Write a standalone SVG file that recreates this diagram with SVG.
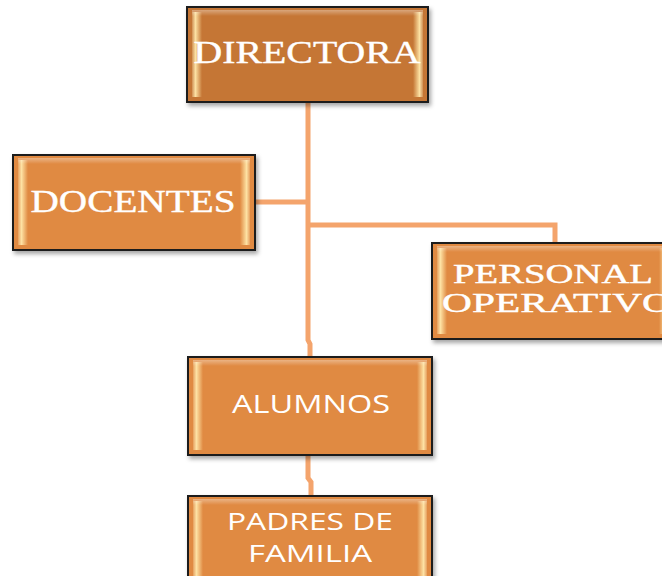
<svg xmlns="http://www.w3.org/2000/svg" width="662" height="576" viewBox="0 0 662 576">
<defs>
<style>
.conn{stroke:#F4A46C;stroke-width:5;fill:none;stroke-linecap:butt}
.frame{stroke:#1c1c1c;stroke-width:2}
.f1{fill:#C57635}
.f2{fill:#E08A42}
.serif{font-family:"Liberation Serif","Times New Roman",serif;fill:#ffffff;text-anchor:middle;stroke:#ffffff;stroke-width:0.4}
.sans{font-family:"Open Sans","Liberation Sans",Arial,sans-serif;fill:#ffffff;text-anchor:middle}
</style>
<filter id="sh" x="-10%" y="-10%" width="125%" height="130%">
<feDropShadow dx="2" dy="3" stdDeviation="2" flood-color="#000" flood-opacity="0.35"/>
</filter>
<linearGradient id="gl" x1="0" y1="0" x2="1" y2="0">
<stop offset="0" stop-color="#FFF0C0" stop-opacity="0.2"/>
<stop offset="0.35" stop-color="#FFE6A8" stop-opacity="0.95"/>
<stop offset="1" stop-color="#FFE6A8" stop-opacity="0"/>
</linearGradient>
<linearGradient id="gr" x1="1" y1="0" x2="0" y2="0">
<stop offset="0" stop-color="#FFF0C0" stop-opacity="0.2"/>
<stop offset="0.35" stop-color="#FFE6A8" stop-opacity="0.95"/>
<stop offset="1" stop-color="#FFE6A8" stop-opacity="0"/>
</linearGradient>
<linearGradient id="gt" x1="0" y1="0" x2="0" y2="1">
<stop offset="0" stop-color="#FFFFFF" stop-opacity="0.35"/>
<stop offset="1" stop-color="#FFFFFF" stop-opacity="0"/>
</linearGradient>
</defs>
<rect width="662" height="576" fill="#ffffff"/>
<g id="connectors">
<path class="conn" d="M308 102 V340 L310 344 V357"/>
<path class="conn" d="M255 202 H308"/>
<path class="conn" d="M308 225 H555 V243"/>
<path class="conn" d="M308 455 V478 L311 482 V496"/>
</g>
<g id="directora">
<rect class="f1 frame" x="187" y="7" width="241" height="95" filter="url(#sh)"/>
<rect x="192" y="12" width="10" height="85" fill="url(#gl)"/>
<rect x="413" y="12" width="10" height="85" fill="url(#gr)"/>
<rect x="192" y="10" width="231" height="6" fill="url(#gt)"/>
<text class="serif" x="307" y="63" font-size="32" textLength="227" lengthAdjust="spacingAndGlyphs">DIRECTORA</text>
</g>
<g id="docentes">
<rect class="f2 frame" x="13" y="155" width="242" height="95" filter="url(#sh)"/>
<rect x="18" y="160" width="10" height="85" fill="url(#gl)"/>
<rect x="240" y="160" width="10" height="85" fill="url(#gr)"/>
<rect x="18" y="158" width="232" height="6" fill="url(#gt)"/>
<text class="serif" x="133" y="212" font-size="32" textLength="205" lengthAdjust="spacingAndGlyphs">DOCENTES</text>
</g>
<g id="personal">
<rect class="f2 frame" x="432" y="243" width="242" height="96" filter="url(#sh)"/>
<rect x="437" y="248" width="10" height="86" fill="url(#gl)"/>
<rect x="659" y="248" width="10" height="86" fill="url(#gr)"/>
<rect x="437" y="246" width="232" height="6" fill="url(#gt)"/>
<text class="serif" x="553" y="283" font-size="27" textLength="200" lengthAdjust="spacingAndGlyphs">PERSONAL</text>
<text class="serif" x="557" y="312" font-size="27" textLength="230" lengthAdjust="spacingAndGlyphs">OPERATIVO</text>
</g>
<g id="alumnos">
<rect class="f2 frame" x="188" y="357" width="244" height="98" filter="url(#sh)"/>
<rect x="193" y="362" width="10" height="88" fill="url(#gl)"/>
<rect x="417" y="362" width="10" height="88" fill="url(#gr)"/>
<rect x="193" y="360" width="234" height="6" fill="url(#gt)"/>
<text class="sans" x="311" y="413" font-size="25" textLength="158" lengthAdjust="spacingAndGlyphs">ALUMNOS</text>
</g>
<g id="padres">
<rect class="f2 frame" x="188" y="496" width="244" height="98" filter="url(#sh)"/>
<rect x="193" y="501" width="10" height="88" fill="url(#gl)"/>
<rect x="417" y="501" width="10" height="88" fill="url(#gr)"/>
<rect x="193" y="499" width="234" height="6" fill="url(#gt)"/>
<text class="sans" x="310" y="530" font-size="24" textLength="166" lengthAdjust="spacingAndGlyphs">PADRES DE</text>
<text class="sans" x="310" y="562" font-size="24" textLength="124" lengthAdjust="spacingAndGlyphs">FAMILIA</text>
</g>
</svg>
